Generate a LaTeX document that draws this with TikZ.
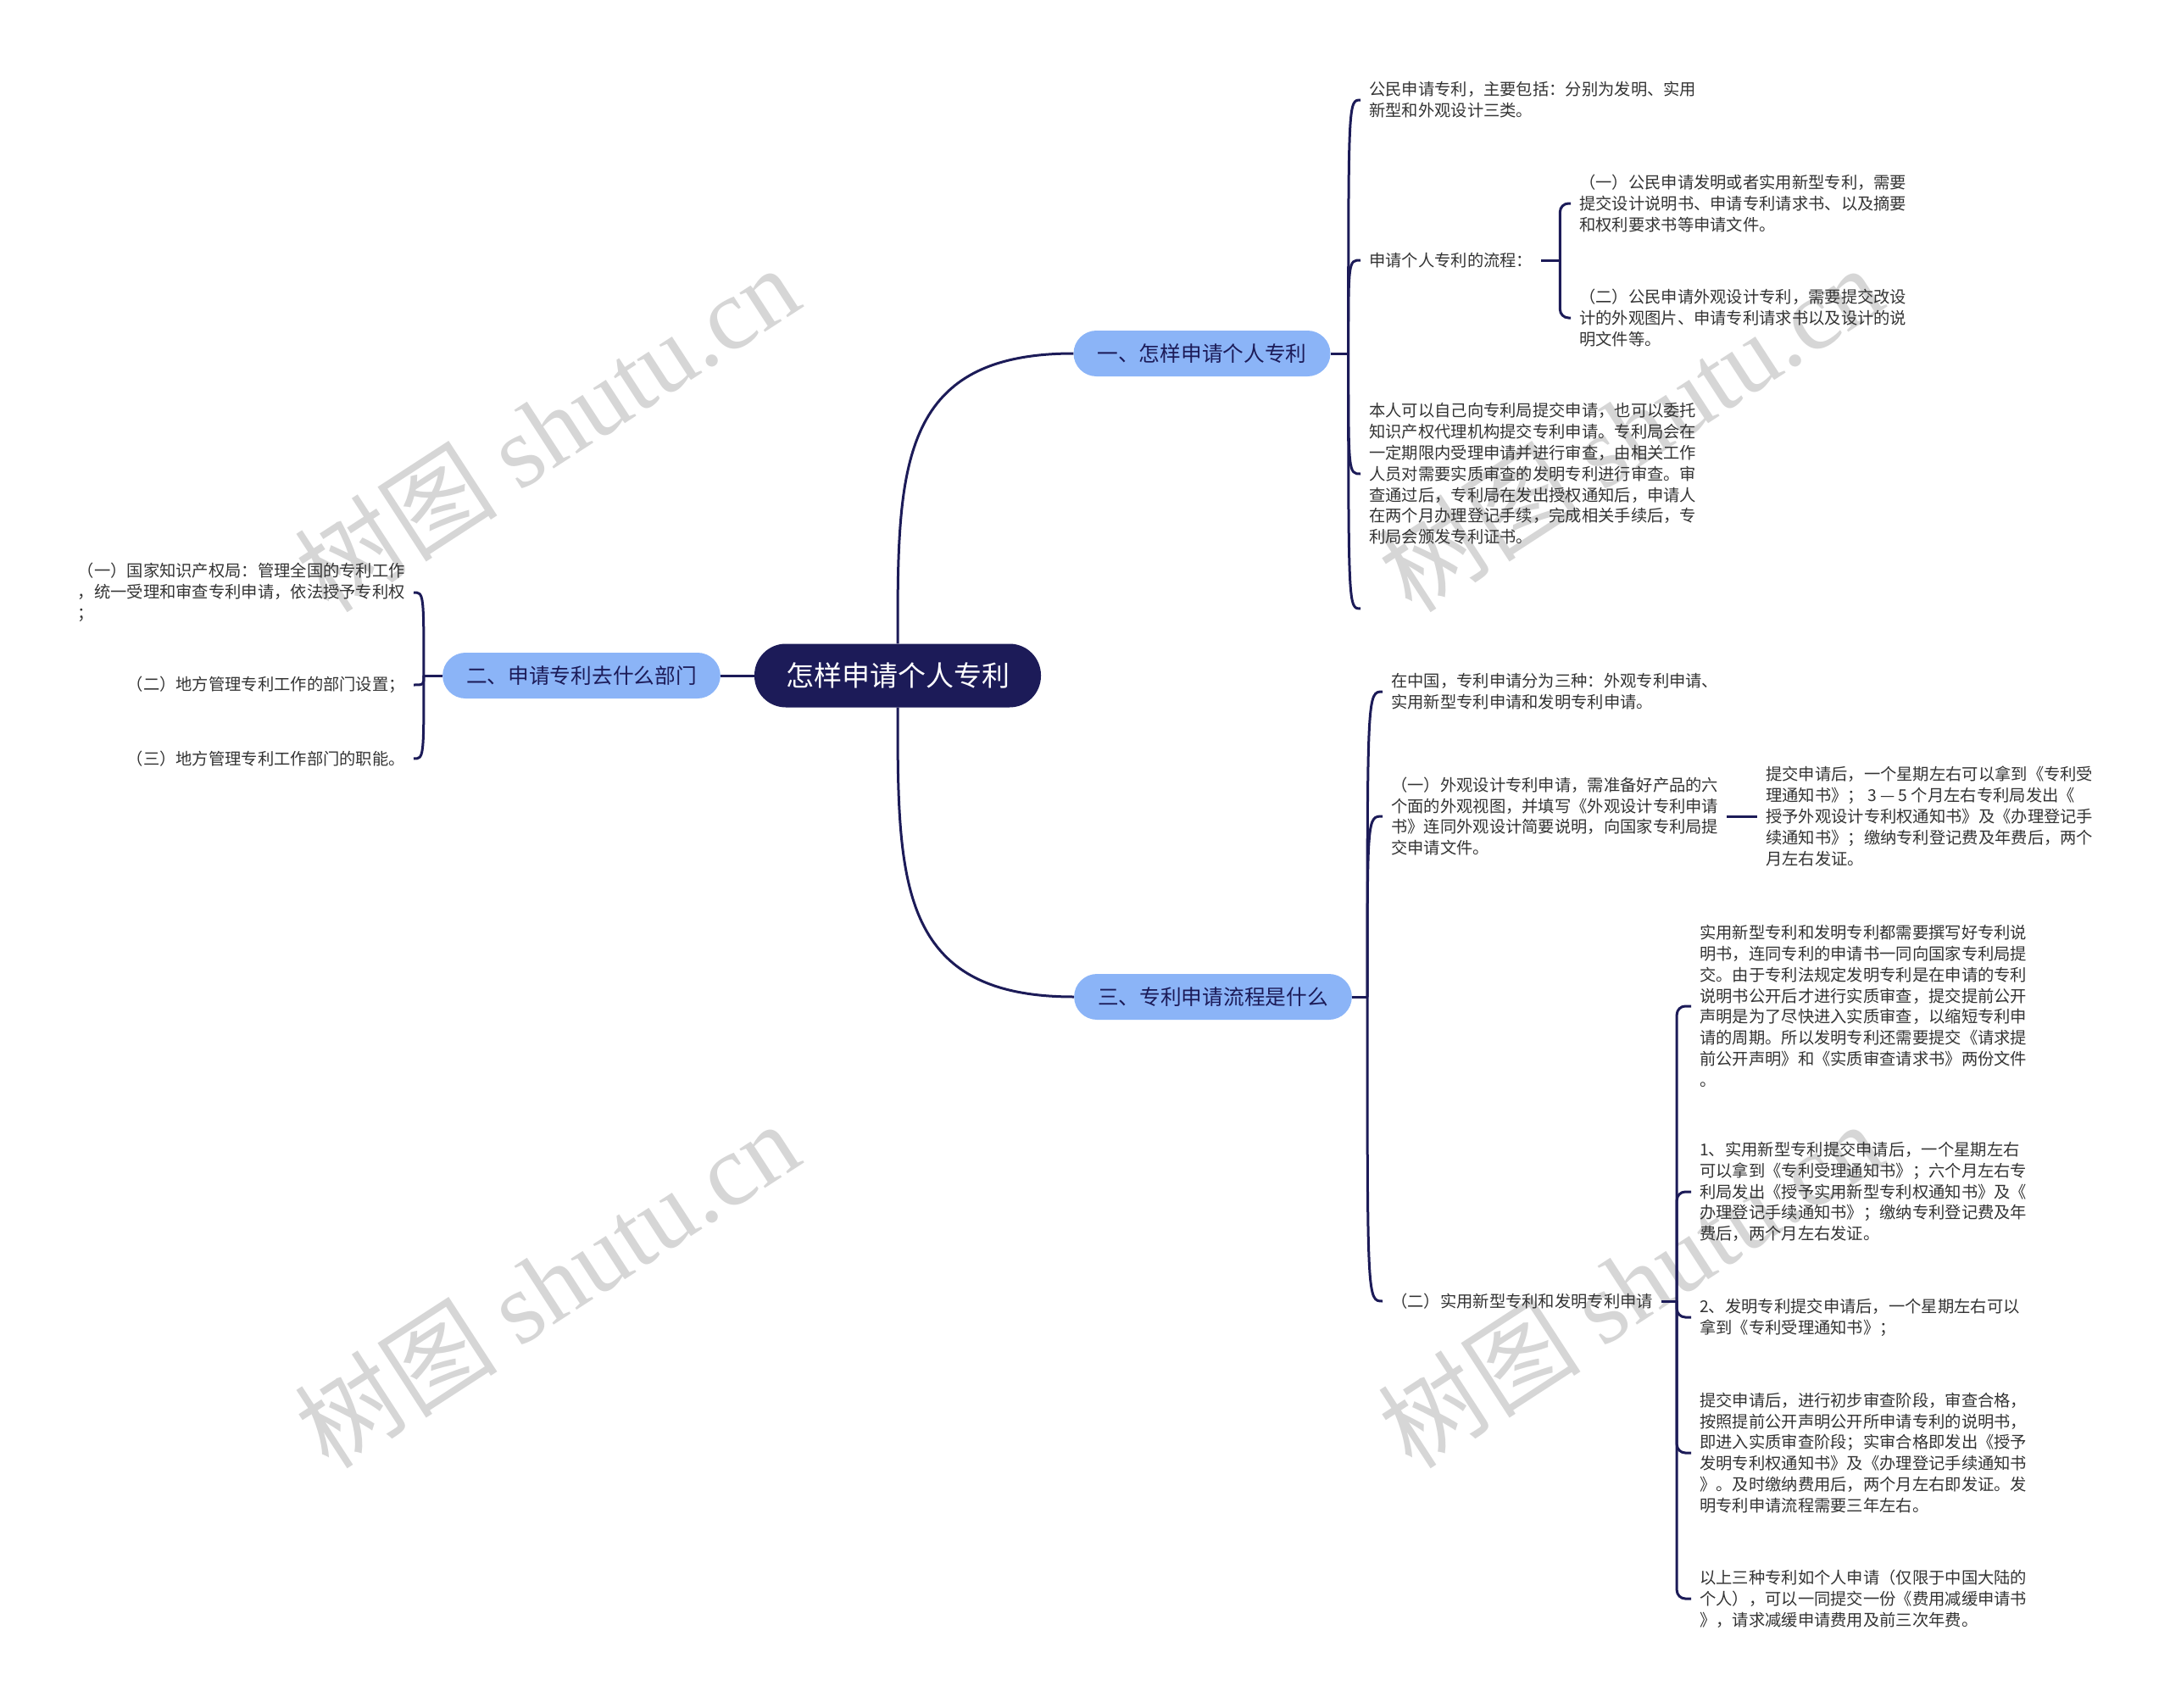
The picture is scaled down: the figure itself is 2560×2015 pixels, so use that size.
\documentclass[tikz,border=0pt]{standalone}
\usepackage{fontspec}
\setmainfont{Noto Sans CJK SC}
\newfontfamily\serifmarca{Liberation Serif}
\usetikzlibrary{positioning}
\definecolor{azuloscuro}{RGB}{28,27,88}
\definecolor{azulclaro}{RGB}{139,180,247}
\definecolor{textogris}{RGB}{51,51,51}
\definecolor{grismarca}{RGB}{214,214,214}
\tikzset{
  raiz/.style={fill=azuloscuro, text=white, rounded corners=37pt, minimum height=75pt, inner xsep=37pt, font={\fontsize{33}{40}\selectfont}},
  rama/.style={fill=azulclaro, text=azuloscuro, rounded corners=27pt, minimum height=54pt, inner xsep=28pt, font={\fontsize{24.7}{30}\selectfont}},
  nota/.style={align=left, anchor=west, inner xsep=10pt, inner ysep=0pt, text=textogris, font={\fontsize{19.3}{24.8}\selectfont}},
  notaizq/.style={nota, anchor=east},
  linea/.style={draw=azuloscuro, line width=3pt},
  marca/.style={text=grismarca, rotate=33, font={\fontsize{120}{120}\selectfont}},
}

\begin{document}
\begin{tikzpicture}[x=1pt, y=-1pt]
  \useasboundingbox (0,0) rectangle (2560,2015);
  % marcas de agua
  \foreach \dx/\dy in {0/0, 1278/0, 0/1010, 1278/1010}
    \node[marca] (marca-\dx-\dy) at (645+\dx, 505+\dy) {树图 {\serifmarca shutu.cn}};

  % centro y ramas
  \node[raiz] (raiz) at (1059,797) {怎样申请个人专利};
  \node[rama] (r1) at (1418,417) {一、怎样申请个人专利};
  \node[rama] (r2) at (686,797) {二、申请专利去什么部门};
  \node[rama] (r3) at (1431,1176) {三、专利申请流程是什么};
  \draw[linea] (raiz.north) .. controls +(0,-205) and +(-208,0) .. (r1.west);
  \draw[linea] (raiz.south) .. controls +(0,205) and +(-208,0) .. (r3.west);
  \draw[linea] (raiz.west) -- (r2.east);

  % rama uno
  \coordinate (t1) at ([xshift=21pt]r1.east);
  \coordinate (a4) at (1605,718);
  \node[nota] (a1) at (1605,118) {公民申请专利，主要包括：分别为发明、实用\\
    新型和外观设计三类。};
  \node[nota] (a2) at (1605,307) {申请个人专利的流程：};
  \node[nota] (a3) at (1605,559) {本人可以自己向专利局提交申请，也可以委托\\
    知识产权代理机构提交专利申请。专利局会在\\
    一定期限内受理申请并进行审查，由相关工作\\
    人员对需要实质审查的发明专利进行审查。审\\
    查通过后，专利局在发出授权通知后，申请人\\
    在两个月办理登记手续，完成相关手续后，专\\
    利局会颁发专利证书。};
  \draw[linea] (r1.east) -- (t1);
  \foreach \n in {a1,a2,a3}
    \draw[linea] (t1) .. controls (t1 |- \n.west) .. (\n.west);
  \draw[linea] (t1) .. controls (t1 |- a4) .. (a4);

  \coordinate (t12) at ([xshift=22pt]a2.east);
  \node[nota] (a21) at (1853,240) {（一）公民申请发明或者实用新型专利，需要\\
    提交设计说明书、申请专利请求书、以及摘要\\
    和权利要求书等申请文件。};
  \node[nota] (a22) at (1853,375) {（二）公民申请外观设计专利，需要提交改设\\
    计的外观图片、申请专利请求书以及设计的说\\
    明文件等。};
  \draw[linea] (a2.east) -- (t12);
  \foreach \n in {a21,a22}
    \draw[linea, rounded corners=10pt] (t12) |- (\n.west);

  % rama dos
  \coordinate (t2) at ([xshift=-22pt]r2.west);
  \node[notaizq] (l1) at (488,699) {（一）国家知识产权局：管理全国的专利工作\\
    ，统一受理和审查专利申请，依法授予专利权\\
    ；};
  \node[notaizq] (l2) at (488,808) {（二）地方管理专利工作的部门设置；};
  \node[notaizq] (l3) at (488,895) {（三）地方管理专利工作部门的职能。};
  \draw[linea] (r2.west) -- (t2);
  \foreach \n in {l1,l2,l3}
    \draw[linea] (t2) .. controls (t2 |- \n.east) .. (\n.east);

  % rama tres
  \coordinate (t3) at ([xshift=18pt]r3.east);
  \node[nota] (b1) at (1631,816) {在中国，专利申请分为三种：外观专利申请、\\
    实用新型专利申请和发明专利申请。};
  \node[nota] (b2) at (1631,963) {（一）外观设计专利申请，需准备好产品的六\\
    个面的外观视图，并填写《外观设计专利申请\\
    书》连同外观设计简要说明，向国家专利局提\\
    交申请文件。};
  \node[nota] (b3) at (1631,1535) {（二）实用新型专利和发明专利申请};
  \draw[linea] (r3.east) -- (t3);
  \foreach \n in {b1,b2,b3}
    \draw[linea] (t3) .. controls (t3 |- \n.west) .. (\n.west);

  \node[nota] (b21) at (2073,963) {提交申请后，一个星期左右可以拿到《专利受\\
    理通知书》； 3 — 5 个月左右专利局发出《\\
    授予外观设计专利权通知书》及《办理登记手\\
    续通知书》；缴纳专利登记费及年费后，两个\\
    月左右发证。};
  \draw[linea] (b2.east) -- (b21.west);

  \coordinate (t32) at ([xshift=18pt]b3.east);
  \node[nota] (b31) at (1995,1187) {实用新型专利和发明专利都需要撰写好专利说\\
    明书，连同专利的申请书一同向国家专利局提\\
    交。由于专利法规定发明专利是在申请的专利\\
    说明书公开后才进行实质审查，提交提前公开\\
    声明是为了尽快进入实质审查，以缩短专利申\\
    请的周期。所以发明专利还需要提交《请求提\\
    前公开声明》和《实质审查请求书》两份文件\\
    。};
  \node[nota] (b32) at (1995,1406) {1、实用新型专利提交申请后，一个星期左右\\
    可以拿到《专利受理通知书》；六个月左右专\\
    利局发出《授予实用新型专利权通知书》及《\\
    办理登记手续通知书》；缴纳专利登记费及年\\
    费后，两个月左右发证。};
  \node[nota] (b33) at (1995,1554) {2、发明专利提交申请后，一个星期左右可以\\
    拿到《专利受理通知书》；};
  \node[nota] (b34) at (1995,1714) {提交申请后，进行初步审查阶段，审查合格，\\
    按照提前公开声明公开所申请专利的说明书，\\
    即进入实质审查阶段；实审合格即发出《授予\\
    发明专利权通知书》及《办理登记手续通知书\\
    》。及时缴纳费用后，两个月左右即发证。发\\
    明专利申请流程需要三年左右。};
  \node[nota] (b35) at (1995,1886) {以上三种专利如个人申请（仅限于中国大陆的\\
    个人），可以一同提交一份《费用减缓申请书\\
    》，请求减缓申请费用及前三次年费。};
  \draw[linea] (b3.east) -- (t32);
  \foreach \n in {b31,b32,b33,b34,b35}
    \draw[linea, rounded corners=10pt] (t32) |- (\n.west);
\end{tikzpicture}
\end{document}
